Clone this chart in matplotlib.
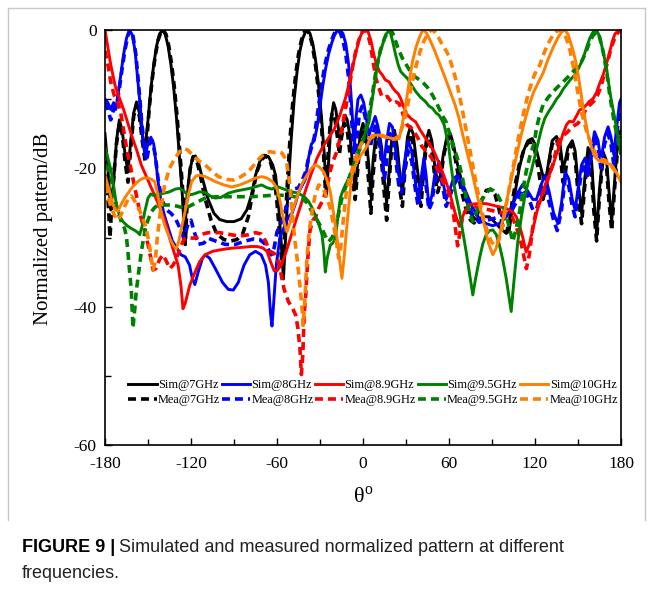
import matplotlib
matplotlib.use('Agg')
import matplotlib.pyplot as plt
from matplotlib.ticker import MultipleLocator

plt.rcParams['font.family'] = ['Liberation Serif', 'DejaVu Serif']
plt.rcParams['mathtext.fontset'] = 'stix'
plt.rcParams['axes.unicode_minus'] = False

# ---------------- data (theta in degrees, normalized pattern in dB) ----------------
labels_sim = ['Sim@7GHz', 'Sim@8GHz', 'Sim@8.9GHz', 'Sim@9.5GHz', 'Sim@10GHz']
labels_mea = ['Mea@7GHz', 'Mea@8GHz', 'Mea@8.9GHz', 'Mea@9.5GHz', 'Mea@10GHz']
colors = ['#000000', '#0000ff', '#ff0000', '#008000', '#ff8000']

sim7 = [(-180, -15), (-178, -20), (-176, -26), (-174, -22), (-172, -16), (-170, -13), (-168, -14.5), (-166, -18),
        (-164, -20.5), (-162, -16), (-160, -12), (-158, -10.4), (-156, -12), (-154, -15), (-152.5, -17.5), (-151, -15),
        (-150, -13), (-148, -8.5), (-146, -5), (-144, -2.3), (-142, -0.6), (-140, 0), (-138, -0.6), (-136, -2.3),
        (-134, -5), (-132, -8.5), (-130, -13), (-128, -18.5), (-126, -24), (-124.5, -29.5), (-123, -25), (-121, -20.5),
        (-119, -18.6), (-117, -18.2), (-115, -19), (-112, -21.5), (-108, -24.5), (-104, -26.5), (-100, -27.4),
        (-95, -27.7), (-90, -27.7), (-85, -27.3), (-81, -26), (-78, -24), (-75, -21), (-72, -19), (-69, -18.1),
        (-66, -18.3), (-63, -19.5), (-61, -21), (-59, -25), (-57, -31), (-55.5, -36), (-54, -30), (-52, -22),
        (-50, -15.5), (-48, -10), (-46, -6), (-44, -3), (-42, -1.2), (-40, -0.2), (-39, 0), (-37, -0.5), (-35, -2),
        (-33, -4.5), (-31, -8), (-29, -12.5), (-27, -18), (-25.5, -24), (-24, -19), (-22, -12.5), (-20.5, -10.5),
        (-19, -11.5), (-17, -14.5), (-16, -16), (-14, -14), (-12.5, -12.3), (-11, -13), (-9, -15.5), (-7, -20),
        (-5.5, -23), (-4, -20), (-2, -15), (0, -13.5), (2, -15), (4, -19.5), (5.5, -24), (7, -19), (9, -15),
        (11, -14.5), (13, -17), (15, -22), (16.5, -25), (18, -21), (20, -16), (22, -14.5), (24, -17), (26, -21.5),
        (27.5, -23.5), (29, -20), (31, -15.5), (33, -14), (35, -15), (37, -18.5), (39, -22), (40.5, -23.5), (42, -20),
        (44, -16), (46, -14.5), (48, -16), (50, -19.5), (52, -22), (54, -21), (56, -18), (58.5, -15.5), (61, -15),
        (63, -16.5), (66, -19.5), (69, -22), (72, -24.5), (75, -26.5), (78, -27.3), (81, -27.3), (84, -27), (88, -27),
        (92, -27.8), (96, -28.7), (100, -29.4), (102, -29), (104, -26), (106.5, -23), (109, -20), (112, -17.5),
        (115, -16), (118, -15.7), (120, -16.5), (123, -19), (126, -21.5), (128, -21), (130, -18.5), (132, -16),
        (135, -15.4), (137.5, -16.5), (139.5, -20), (141, -19), (143, -17), (146, -16), (148, -17.5), (150, -22),
        (152.5, -26.5), (154.5, -22), (157, -17), (159.5, -19), (161, -24), (163, -29.5), (165, -23), (167.5, -17.6),
        (170, -19), (171.5, -23), (173.5, -27.7), (175.5, -22), (178, -15.2), (180, -14.5)]

mea7 = [(-180, -19), (-178, -24), (-176.5, -30), (-175, -24), (-172, -16.5), (-170, -13.5), (-168, -15), (-166, -19),
        (-164, -22), (-162, -17), (-160, -12.5), (-158, -10.8), (-156, -12.5), (-154, -16), (-152, -19), (-150.5, -15),
        (-149, -11), (-147, -7), (-145, -3.8), (-143, -1.5), (-141, -0.3), (-139.5, 0), (-137.5, -0.6), (-135.5, -2.3),
        (-133.5, -5), (-131.5, -8.5), (-129.5, -13), (-127.5, -18.5), (-125.5, -24), (-124, -31), (-122.5, -24),
        (-120.5, -20), (-118.5, -18.3), (-116.5, -18.5), (-114, -20.5), (-110, -24.5), (-106, -27.5), (-102, -29.5),
        (-97, -30.3), (-92, -30.5), (-88, -30.3), (-84, -29.5), (-80, -27), (-77, -23.5), (-74, -20.5), (-71, -18.8),
        (-68, -18.2), (-65, -18.8), (-62, -21), (-60, -25), (-58, -30), (-56.5, -34), (-55, -31), (-53, -23),
        (-51, -16), (-49, -10.5), (-47, -6.5), (-45, -3.5), (-43, -1.5), (-41, -0.3), (-39.5, 0), (-37.5, -0.5),
        (-35.5, -2), (-33.5, -4.5), (-31.5, -8), (-29.5, -12.5), (-27.5, -18), (-26, -24), (-24.5, -18.5), (-23, -14),
        (-21.5, -12), (-19.5, -13), (-17.5, -16), (-16.5, -18), (-15, -15.5), (-13, -13.5), (-11, -14.5), (-9, -18),
        (-7, -22), (-5.5, -24.5), (-4, -21), (-2, -16), (0, -14.5), (2, -17), (4, -22), (5.5, -26.5), (7, -21),
        (9, -16.5), (11, -15.5), (13, -19), (15, -24), (16.5, -27.5), (18, -22.5), (20, -17), (22, -15.5), (24, -18.5),
        (26, -23.5), (27.5, -25.5), (29, -21), (31, -16.5), (33, -15), (35, -16.5), (37, -20.5), (39, -24),
        (40.5, -25.5), (42, -21), (44, -17), (46, -15.5), (48, -17.5), (50, -21), (52, -23.5), (54, -22), (56, -18.5),
        (58.5, -16), (61, -15.5), (63, -17), (66, -20.5), (69, -23.5), (72, -26), (75, -27.5), (77.5, -27.9),
        (80, -26.5), (83, -24.5), (86, -23.2), (89, -23), (92, -23.7), (95, -26), (98, -28.8), (100, -29.3), (102, -28),
        (104, -25), (106.5, -22), (109, -19.5), (112, -17.5), (115, -16.3), (118, -16.2), (120, -17.5), (123, -21),
        (125.5, -24.5), (127.5, -23), (130, -19), (132, -16.5), (135, -15.8), (137.5, -17.5), (139.5, -22), (141, -21),
        (143, -17.5), (146, -16.5), (148, -18.5), (150, -23.5), (152.5, -28), (154.5, -23), (157, -18), (159.5, -20.5),
        (161, -26), (163, -30.5), (165, -24), (167.5, -18.3), (170, -20), (171.5, -24.5), (173.5, -29), (175.5, -23),
        (178, -16), (180, -15.5)]

sim8 = [(-180, -10), (-178, -10.5), (-176, -11.5), (-174, -10.5), (-172.5, -11.5), (-171, -9.5), (-169, -6.5),
        (-167, -3.5), (-165, -1.2), (-163, 0), (-161, -0.7), (-159, -3), (-157, -7.5), (-155, -12), (-153.5, -16),
        (-152, -18), (-150, -16.5), (-148, -15.5), (-146, -16.5), (-144, -20), (-142, -23.5), (-139, -26.5),
        (-136, -28.5), (-133, -30.5), (-130, -31.5), (-127, -32.5), (-124, -32.8), (-121, -34), (-119, -36),
        (-117.3, -36.8), (-115, -35), (-112, -33), (-110, -32.5), (-107, -33), (-103, -34.5), (-98, -36.5),
        (-94, -37.5), (-90.5, -37.6), (-87, -36.5), (-83, -34), (-79, -32.5), (-75, -32), (-71, -32.5), (-68, -34),
        (-66, -36.5), (-64.5, -41), (-63.5, -42.8), (-62.5, -40), (-60.5, -34), (-58, -30), (-55, -28.5), (-52, -27),
        (-49.5, -26.5), (-47, -25), (-45, -23.5), (-42, -22.3), (-40, -21.5), (-38, -18.5), (-36, -16.5), (-34, -16),
        (-32, -14), (-30, -11), (-28, -8), (-26, -5.5), (-24, -3.5), (-22, -2), (-20, -0.8), (-18, -0.1), (-16, 0),
        (-14, -0.5), (-12, -2), (-10, -5), (-8.5, -9), (-7, -14), (-6, -17), (-5, -13), (-3.5, -10), (-1.5, -9.4),
        (0.5, -10.5), (2.5, -13), (4.2, -15.2), (6, -14), (8.5, -12.5), (10.5, -14), (12.5, -17.5), (14.5, -19.5),
        (16.5, -16), (18.5, -13.5), (20.5, -14), (22.5, -17), (25, -21), (27, -22), (29, -19), (31.5, -16),
        (34, -17.5), (36.5, -22), (38.5, -24.5), (40.5, -21.5), (42.5, -18.5), (44, -21), (46, -25.5), (48, -24),
        (50, -21), (53, -19), (55.5, -21.5), (58, -24.5), (60, -23.5), (63, -21.5), (66, -21), (69, -22), (72, -23.5),
        (76, -25.5), (81, -27.2), (86, -28), (90.5, -28.3), (95, -28), (100, -27), (104, -25.5), (108, -23.5),
        (111.5, -22.3), (115, -23.3), (118.5, -24.5), (121, -24.5), (124, -22.5), (127, -21), (130, -23.5),
        (133, -26.5), (136, -28), (138.5, -25), (141, -20.5), (143.5, -21.5), (146, -24.5), (148, -26), (150, -23),
        (152.5, -19.5), (155, -18.5), (157, -20.5), (159, -18), (161.5, -14.7), (164, -16), (166, -19), (168.5, -15.5),
        (171, -14), (173, -15.5), (175, -18), (177, -14), (179, -10.5), (180, -10)]

mea8 = [(-180, -10.5), (-178, -11.5), (-176, -13), (-174, -11.5), (-172, -11), (-170, -8.5), (-168, -5.5),
        (-166, -2.8), (-164, -0.8), (-162.5, 0), (-160.5, -0.8), (-158.5, -3.5), (-156.5, -8), (-154.5, -13),
        (-152.5, -17), (-151, -19), (-149, -16.5), (-147, -16), (-145, -18), (-143, -21.5), (-140.5, -24.5),
        (-137, -26), (-134, -26.5), (-131, -27.2), (-128, -28.5), (-125, -30.1), (-122, -28), (-120, -27.5),
        (-118, -29), (-115, -31), (-111, -30.8), (-108, -30.1), (-103, -30.5), (-96, -31), (-89, -31), (-82, -30.5),
        (-76, -30.2), (-72, -30.3), (-68, -31), (-64, -32.5), (-62, -31.5), (-60, -29.2), (-57, -27.8), (-54, -26),
        (-51, -24), (-48, -23), (-45, -22.8), (-42, -21.5), (-40, -20.5), (-38, -18.5), (-36, -17), (-34, -15.5),
        (-32, -12.5), (-30, -9.5), (-28, -6.8), (-26, -4.5), (-24, -2.8), (-22, -1.5), (-20, -0.5), (-18, 0),
        (-16, -0.3), (-14, -1.5), (-12, -3.5), (-10, -7), (-8.5, -11), (-7, -16), (-5.5, -20), (-4, -15), (-2.5, -12),
        (-0.5, -11), (1.5, -12.5), (3.5, -15.5), (5, -17), (7, -15), (9, -13.5), (11, -15.5), (13, -19), (15, -21.5),
        (17, -18), (19, -15), (21, -15.5), (23, -19), (25, -22.5), (27, -23.5), (29, -20.5), (31.5, -17.5), (34, -19),
        (36.5, -23), (38.5, -25.5), (40.5, -22.5), (42.5, -20), (44, -22.5), (46, -26), (48, -25), (50, -22),
        (53, -20), (55.5, -22.5), (58, -25.5), (60, -24.5), (63, -22.5), (66, -21.5), (69, -22.5), (72, -24.5),
        (76, -26.5), (81, -27.8), (86, -27.5), (90.5, -27.3), (95, -27), (100, -26.5), (104, -26), (108, -24.5),
        (111.5, -23), (115, -24), (118.5, -26), (121, -26), (124, -23.5), (127, -22.5), (130, -25), (133, -27.5),
        (135.5, -29), (138.5, -26), (141, -21.5), (143.5, -22.5), (146, -25.5), (148, -27), (150, -24), (152.5, -20.5),
        (155, -19.5), (157, -21.5), (159, -18.5), (161.5, -15.5), (164, -17), (166, -20), (168.5, -16.5), (171, -15),
        (173, -16.5), (175, -19.5), (177, -15), (179, -12), (180, -11.5)]

sim89 = [(-180, 0), (-178, -2.5), (-176, -5), (-173, -8), (-170, -9.8), (-167, -11.5), (-164, -13.5),
         (-161.5, -15.2), (-158, -17.3), (-154.7, -19.5), (-150.5, -21.5), (-146.5, -23.4), (-143.5, -24.8),
         (-140.7, -26.3), (-137.5, -28), (-134.9, -30.1), (-132, -32), (-129, -34), (-127, -37), (-125.6, -40.3),
         (-124, -39.5), (-121, -37), (-117.2, -35), (-114, -33.5), (-110.2, -32.5), (-105, -32), (-100, -31.8),
         (-94, -31.6), (-89, -31.5), (-83, -31.4), (-78, -31.3), (-74, -31.3), (-70, -31.5), (-67, -32),
         (-64.5, -33.5), (-62, -34.8), (-60, -34.8), (-57, -34), (-54, -32.3), (-51, -30.3), (-49, -29), (-46, -27),
         (-42.6, -24.8), (-39, -22.5), (-35.6, -20.5), (-32, -18.5), (-28.6, -17.1), (-24, -15.6), (-20, -14.3),
         (-17, -12.8), (-14.5, -11.3), (-12.3, -9.9), (-10, -8), (-7.5, -5.5), (-5.3, -3.6), (-3, -1.6), (-1, -0.5),
         (1.5, 0), (3.5, -0.2), (5.5, -1.5), (7.5, -3.5), (9.5, -5), (11.5, -6), (13.5, -6.5), (15.5, -7.2),
         (18.2, -7.5), (20.5, -8.3), (22.8, -8.9), (24.5, -9.2), (26.3, -9.9), (28.5, -11.2), (31, -12.3),
         (33.5, -12.8), (36.8, -13.3), (40, -14.5), (43.8, -15.7), (46.5, -16.5), (49.6, -17.6), (52.5, -19),
         (55.4, -20.5), (58, -22), (60.5, -23.5), (62.7, -25.3), (65, -27), (67.3, -28.4), (69, -27.3),
         (70.8, -26.3), (73, -25.5), (75.4, -25.2), (80, -25.1), (85.9, -25.1), (92, -25.4), (96, -25.6),
         (99.9, -25.8), (104.5, -26.3), (107, -27), (109.2, -28.3), (111.5, -30), (113.8, -32.1), (116, -31),
         (118.9, -28.5), (121, -26.5), (123.4, -24.8), (125.5, -23.3), (128, -21.9), (130.5, -20.7), (132.7, -19.5),
         (135, -17.9), (137.3, -16.6), (139.5, -15), (142, -13.7), (144, -13.2), (146.6, -13.3), (149, -12.4),
         (151, -11.6), (153.6, -11.3), (156, -10.8), (158, -10.3), (160.6, -9.9), (163, -9), (165, -7.8),
         (167.5, -6.5), (170, -4.8), (172.2, -3.1), (174, -1.6), (175.7, -0.6), (178, -0.1), (180, 0)]

mea89 = [(-180, -3), (-178, -5), (-176, -7.5), (-173.5, -9.5), (-171, -10.5), (-169, -12), (-167, -14.5),
         (-165, -17), (-163, -19), (-161.5, -20.5), (-159.5, -22.5), (-157, -25), (-155, -27), (-152.5, -29),
         (-150, -31), (-148, -33), (-146.5, -34.7), (-144.5, -34.5), (-142, -33.2), (-139.5, -32.5), (-137, -33.5),
         (-134.9, -34.5), (-132.5, -34), (-130, -33), (-127.5, -31.5), (-125, -30.3), (-122, -30), (-119, -30.1),
         (-116, -30), (-112, -29.5), (-108, -29.3), (-100, -29.3), (-92, -29.6), (-86, -29.8), (-80, -29.6),
         (-75, -29.3), (-71, -29.5), (-68, -30.5), (-65, -32), (-62, -32.3), (-59, -33.5), (-57, -35.5),
         (-55, -37.5), (-52, -39.3), (-49, -40.3), (-47, -41.2), (-45.5, -43), (-44, -46), (-43, -49.8), (-42, -47),
         (-41, -41), (-40, -38.5), (-38.5, -33), (-37, -29), (-35, -27.5), (-33, -27), (-31, -25.8), (-29, -25),
         (-27, -24), (-25, -22.5), (-23, -20.5), (-21, -19), (-19, -18), (-17, -16.5), (-15, -14.5), (-13, -12.3),
         (-11, -10), (-9, -7.5), (-7, -5), (-5, -3), (-3, -1.5), (-1, -0.4), (1, 0), (3, -0.3), (5, -2),
         (7, -4.5), (9, -7), (11, -8.3), (13, -9.5), (15, -9.8), (17, -9.6), (19, -10.2), (21, -10.6), (23, -10.4),
         (25, -10.6), (27, -11.5), (29, -13), (31, -13.8), (33, -14), (35, -14.5), (38, -15.5), (41, -16.8),
         (44, -17.5), (47, -18.2), (50, -19.3), (53, -20.5), (56, -22), (59, -23), (61, -24.5), (63, -26.5),
         (65, -29.5), (66, -31.2), (67.5, -29.5), (69.5, -27), (72, -26), (76, -25.5), (82, -25.7), (88, -26),
         (94, -26.3), (100, -26.5), (104, -27), (107, -28.5), (110, -30.5), (112, -32.5), (114, -34.5),
         (116, -32.5), (118.5, -28.5), (121, -26), (124, -24.5), (127, -22.8), (130, -21), (133, -19),
         (135.8, -16.4), (138, -15.5), (140, -15.2), (142.5, -14.8), (145, -14.2), (147.5, -13.8), (150, -13.5),
         (153, -12.5), (156, -11.3), (158.5, -10.8), (161, -10.3), (163.5, -9.5), (166, -8.2), (168.5, -6.3),
         (171, -4.3), (173.5, -2.3), (176, -1), (178, -0.3), (180, -0.2)]

sim95 = [(-180, -17), (-178, -18.5), (-175.6, -20.5), (-174, -22.5), (-172, -25.3), (-170, -26.8), (-167.5, -27.7),
         (-164.5, -28.3), (-161.6, -28.7), (-159, -29), (-157, -29.3), (-155.8, -29.6), (-154, -28.3),
         (-152.3, -26.3), (-150, -24.3), (-148, -23.7), (-146.5, -23.9), (-143, -23.8), (-139, -23.6), (-135, -23.4),
         (-131, -23), (-128, -22.9), (-125.5, -23.2), (-122, -23.9), (-118, -23.7), (-114, -23.4), (-110, -23.5),
         (-106.5, -24), (-103, -24.3), (-99, -24.2), (-94, -23.6), (-89, -23.3), (-84, -23.1), (-79, -22.9),
         (-74, -22.6), (-70.7, -22.4), (-67, -22.8), (-63.5, -23), (-60, -22.6), (-56.5, -22.9), (-52.5, -23.2),
         (-49.5, -23.4), (-45, -23.6), (-42.6, -23.9), (-40, -24.3), (-37.9, -24.8), (-35.5, -25.7), (-33.3, -26.8),
         (-31, -28), (-28.6, -29.6), (-27.3, -32), (-26.3, -35), (-25, -33), (-22.8, -31.1), (-21, -30.8),
         (-19.3, -30.1), (-17.5, -27), (-15.8, -24.3), (-14, -23.2), (-12.3, -22.4), (-10, -21.5), (-7.7, -20.5),
         (-5.5, -19), (-3, -17.1), (-1, -16.2), (1.5, -15), (4.2, -13.3), (6.5, -10), (8.9, -6.5), (11, -4),
         (13.5, -2.2), (16, -0.6), (18.6, 0), (20.5, -1.5), (22.8, -3.6), (24.5, -5), (26.3, -6), (28.5, -6.5),
         (31, -7), (34, -8), (36.8, -8.9), (40, -9.7), (43.8, -10.4), (46, -11), (48.4, -11.3), (51, -12),
         (53, -12.3), (55, -13), (56.6, -13.7), (58, -15), (59.6, -16.5), (61, -19), (62.7, -21.5), (65, -24),
         (67.3, -26.3), (69.5, -29), (72, -32.1), (74.5, -35.5), (76.6, -38.3), (78.5, -36), (81.3, -33),
         (83.5, -31), (85.9, -29.6), (88.3, -29), (90.6, -28.9), (93, -29.6), (95.2, -31.1), (97.5, -33.2),
         (99.9, -35.9), (101.8, -38.5), (103.4, -40.7), (105, -37), (108, -30.6), (110.5, -27), (112.7, -24.3),
         (115, -22.2), (117.3, -20.5), (119.5, -18.6), (122.2, -16.2), (124.5, -14.3), (126.8, -12.8),
         (129.5, -11.8), (132.7, -10.8), (135, -10), (137.3, -9.4), (139.5, -8.6), (142, -7.9), (145, -7.1),
         (147.8, -6.5), (150.5, -5.5), (153.6, -4.1), (156, -2.5), (158.2, -1.2), (160.5, -0.3), (162.9, 0),
         (165, -0.9), (167.5, -3.1), (170, -5.6), (172.2, -8.9), (174, -11), (175.7, -12.8), (177.5, -15),
         (180, -17.8)]

mea95 = [(-180, -19.5), (-178, -20), (-175.6, -21.5), (-173.5, -24), (-171, -26.3), (-168.5, -27.8),
         (-166.3, -28.7), (-165, -30), (-164, -32.1), (-162.8, -35), (-161.6, -37.8), (-160.5, -43.1),
         (-159.3, -40.5), (-158.2, -37.8), (-156.5, -35), (-154.7, -32.1), (-153, -30), (-151.2, -28.2),
         (-149.5, -27.2), (-147.7, -26.3), (-145.5, -25.7), (-143, -25.3), (-138, -25.3), (-133.7, -25.3),
         (-129, -25.5), (-124.2, -25.8), (-119.5, -25.3), (-114.9, -24.8), (-110.2, -24.3), (-102, -24.1),
         (-94, -24.1), (-86, -24.1), (-77.7, -24.1), (-70, -24), (-63.7, -23.9), (-58, -23.9), (-54.2, -23.9),
         (-48, -24.1), (-42.6, -24.3), (-39, -25), (-35.6, -26.3), (-32, -27.5), (-28.6, -28.7), (-26.3, -29.8),
         (-24, -30.6), (-21.5, -30), (-19.3, -28.7), (-17, -26.5), (-14.7, -24.3), (-12.3, -22.8), (-10, -21.5),
         (-6.5, -19.5), (-3, -17.6), (0, -16), (3, -13.5), (6, -10), (9, -6), (12, -3), (15, -1.2), (17.5, -0.2),
         (19.5, 0), (21.5, -0.8), (24, -2.4), (27.5, -4.1), (31, -5.3), (34.5, -6.5), (38, -7), (41.4, -7.5),
         (45, -8.3), (48.4, -9.4), (51, -10.4), (53, -11.3), (55.5, -12.4), (58, -13.3), (60.5, -15),
         (62.7, -16.6), (65, -18), (67.3, -19.5), (69.5, -21.5), (72, -24.3), (74.5, -26.5), (76.6, -27.7),
         (79, -26.5), (82.4, -24.8), (85.5, -23.7), (88.2, -23.1), (91, -23.2), (94, -23.9), (97, -25.1),
         (99.9, -26.8), (102, -28.5), (104.5, -30.6), (106.5, -29), (109.2, -26.3), (111.5, -23.3), (113.8, -20.5),
         (116.5, -18.2), (119.6, -16.2), (121, -14.2), (123.3, -12.3), (125.7, -10.8), (129, -9.8), (132.7, -8.9),
         (136, -8.2), (139.6, -7.5), (143, -6.8), (146.6, -6), (149.5, -5.3), (152.4, -4.6), (155.5, -3.2),
         (158.2, -1.7), (160.5, -0.8), (162.9, -0.3), (164.5, -0.6), (167.5, -3.1), (170, -6), (172.2, -9.5),
         (175, -13), (177.5, -15.5), (180, -18)]

sim10 = [(-180, -21), (-178, -22.5), (-176, -24), (-174.4, -25.3), (-172.5, -26), (-171, -26.2), (-169, -25.3),
         (-166.3, -24.3), (-164, -23.6), (-161.6, -22.9), (-158.5, -22.2), (-155.8, -21.7), (-153, -21.4),
         (-150, -21.4), (-147.5, -21.6), (-145.4, -21.9), (-143.5, -23.5), (-141.9, -25.3), (-140, -27),
         (-138.4, -28.2), (-136, -29.5), (-133.7, -30.6), (-131.8, -31.3), (-130.2, -31.6), (-128.5, -30.5),
         (-126.5, -28.5), (-124.2, -26.3), (-121.8, -23.8), (-119.5, -21.9), (-116.5, -21.1), (-113.7, -21),
         (-110, -21.2), (-106, -21.6), (-103.3, -21.9), (-97, -22.4), (-91.6, -22.7), (-86, -22.4), (-80, -21.9),
         (-75, -21.4), (-70.7, -21.2), (-67, -21.4), (-63.3, -21.9), (-61.5, -22.4), (-60, -23), (-58, -24.6),
         (-56.5, -26.3), (-54.8, -28), (-53, -29.2), (-51.2, -28), (-49.5, -26.3), (-47, -24.8), (-44.9, -23.4),
         (-42, -22), (-39.1, -21), (-36, -20), (-33.3, -19.5), (-30.5, -19.8), (-27.4, -20.5), (-25, -21.8),
         (-22.8, -23.4), (-20.5, -26.5), (-18.1, -30.1), (-16.5, -33), (-14.7, -35.9), (-13, -32.5), (-11.2, -28.2),
         (-9.5, -24.5), (-7.7, -21), (-5.5, -19.7), (-3, -18.6), (-0.5, -17.8), (1.9, -17.1), (4.2, -16.1),
         (6.6, -15.2), (10, -15.2), (13.5, -15.2), (17, -15.5), (20.5, -15.7), (23, -15.8), (25.2, -15.7),
         (27.5, -13.5), (29.8, -10.8), (32, -7.8), (34.5, -4.6), (36.8, -2.6), (39.1, -1.2), (41, -0.3), (42.6, 0),
         (44.5, -0.5), (47.3, -1.7), (50, -3), (53, -4.6), (56, -6.2), (58.9, -7.8), (61.5, -9.3), (64.2, -10.8),
         (67, -12.8), (70, -15.5), (73, -18), (76, -20.5), (79, -23.3), (82, -26), (85, -28.5), (87.5, -30.8),
         (90.6, -32.5), (93, -31.5), (95.5, -29.5), (98, -27), (101, -24), (104, -21), (107, -18.3), (110, -15.5),
         (113, -13), (116, -10.8), (119, -9), (122.5, -7.5), (125.7, -6.2), (129, -4.3), (132.7, -2.5), (136, -1.1),
         (138.5, -0.3), (140.8, 0), (143, -0.6), (146.6, -3), (148.5, -4.6), (150.1, -6.5), (152, -9),
         (153.6, -11.3), (155.5, -13.5), (157.1, -15.2), (159.5, -17), (161.7, -18.3), (164.5, -18.9),
         (167.5, -19.1), (170.5, -19.3), (173.4, -19.5), (176.5, -20.5), (180, -22)]

mea10 = [(-180, -22.5), (-178, -24), (-176, -25.5), (-174.4, -26.3), (-172.5, -27.2), (-171, -27.5), (-169, -26.8),
         (-166.3, -25.5), (-164, -24.5), (-161.6, -24), (-159, -24.8), (-156.5, -25.8), (-154, -27), (-151.5, -28.5),
         (-149.5, -30.5), (-147.7, -33), (-146.5, -34.7), (-145, -33.5), (-143.5, -30), (-141.5, -26.5),
         (-138.4, -22.4), (-135, -20), (-131.4, -18.6), (-128, -17.6), (-125, -17.1), (-122, -17.4), (-118, -18.3),
         (-114, -19), (-110.2, -19.5), (-105, -20.5), (-100.9, -21.2), (-95, -21.6), (-90.5, -21.7), (-85, -21.2),
         (-80, -20.5), (-76, -19.5), (-72, -18.5), (-68.4, -17.8), (-65, -17.6), (-62, -17.7), (-59, -17.6),
         (-56.5, -17.8), (-54.5, -18.5), (-53, -19.5), (-51, -22.5), (-49.5, -26.3), (-47.5, -30.5), (-46, -33),
         (-44, -37), (-42.6, -40), (-41.8, -42.7), (-40.8, -40), (-39.1, -33), (-37.5, -29), (-35.6, -26.3),
         (-33.5, -24), (-30.9, -22.4), (-28, -22.8), (-25.1, -24.3), (-22.5, -26), (-20.5, -28.2), (-18.6, -30.6),
         (-17, -33), (-15.8, -32), (-14, -28), (-12, -24), (-9.5, -21.5), (-6.9, -19.7), (-4, -17.8), (-1, -16.4),
         (1.5, -16), (4.2, -15.7), (7.5, -15.4), (11.2, -15.2), (14.5, -15.4), (18.2, -15.7), (21.5, -15.8),
         (25.2, -15.3), (27.5, -14), (30, -12), (32.5, -9.5), (35, -7), (37.5, -4.8), (40, -3), (42.5, -1.6),
         (45, -0.6), (47, -0.1), (48.5, 0), (50.5, -0.4), (53, -1.2), (55.5, -2.2), (58, -3), (60, -3.8),
         (63, -5.8), (66, -8.2), (69, -11.2), (72, -14.5), (75, -17.8), (78, -21.2), (81, -24.3), (84, -27.2),
         (87, -29.3), (89.5, -30.6), (92.1, -31.2), (94.5, -30.5), (97, -28.7), (99.5, -25.7), (102.5, -22.3),
         (105.5, -19), (108.5, -15.5), (112, -12), (115.5, -9), (119, -6.8), (121.5, -5.6), (123.3, -5.1),
         (126, -3.5), (129, -2), (132.7, -0.7), (135, -0.2), (137.3, 0), (139.5, -0.3), (142, -1.3), (144.5, -3),
         (146.6, -5.1), (148.5, -7.5), (150.5, -9.7), (152, -11.5), (153.6, -12.8), (156.5, -15), (159.4, -16.6),
         (161.7, -17.6), (164, -18.6), (166.5, -18.7), (168.7, -18.8), (171.5, -19.3), (174.5, -20), (177, -20.7),
         (180, -21.5)]

sim_curves = [sim7, sim8, sim89, sim95, sim10]
mea_curves = [mea7, mea8, mea89, mea95, mea10]

x_major = [-180, -120, -60, 0, 60, 120, 180]
y_major = [0, -20, -40, -60]

# ---------------- figure ----------------
W, H = 653, 594
fig = plt.figure(figsize=(W / 100, H / 100), dpi=100)
fig.patch.set_facecolor('white')

ax = fig.add_axes([105 / W, 1 - 445 / H, 516 / W, 415 / H])

for lab_s, lab_m, col, cs, cm in zip(labels_sim, labels_mea, colors, sim_curves, mea_curves):
    ts, vs = zip(*cs)
    tm, vm = zip(*cm)
    ax.plot(ts, vs, color=col, lw=2.1, solid_joinstyle='round', label=lab_s)
    ax.plot(tm, vm, color=col, lw=2.6, linestyle=(0, (2.2, 1.4)), label=lab_m)

ax.set_xlim(-180, 180)
ax.set_ylim(-60, 0)
ax.set_xticks(x_major)
ax.set_yticks(y_major)
ax.xaxis.set_minor_locator(MultipleLocator(30))
ax.yaxis.set_minor_locator(MultipleLocator(10))
ax.tick_params(which='both', direction='in', top=False, right=False, width=1.0)
ax.tick_params(which='major', length=5, labelsize=12.5)
ax.tick_params(which='minor', length=4)
ax.tick_params(axis='x', pad=8)
ax.tick_params(axis='y', pad=6)
for sp in ax.spines.values():
    sp.set_linewidth(1.2)

ax.set_ylabel('Normalized pattern/dB', fontsize=15)
ax.yaxis.label.set_va('center')
ax.yaxis.set_label_coords(-0.12, 0.52)
ax.set_xlabel('θ$^\\mathregular{o}$', fontsize=16)
ax.xaxis.label.set_va('center')
ax.xaxis.set_label_coords(0.5, -0.123)

ax.legend(ncol=5, loc='center', bbox_to_anchor=(0.52, 0.126), frameon=False, fontsize=8.8,
          handlelength=2.3, handletextpad=0.1, columnspacing=0.15, labelspacing=0.25, borderaxespad=0)

# light border around figure area
fig.add_artist(plt.Line2D([8 / W, 8 / W], [1 - 8 / H, 1 - 520 / H], color='#c8c8c8', lw=1.0))
fig.add_artist(plt.Line2D([8 / W, 645 / W], [1 - 8 / H, 1 - 8 / H], color='#c8c8c8', lw=1.0))
fig.add_artist(plt.Line2D([645 / W, 645 / W], [1 - 8 / H, 1 - 520 / H], color='#c8c8c8', lw=1.0))

# caption
cap_font = ['Liberation Sans', 'DejaVu Sans']
cap_size = 13
t1 = fig.text(22 / W, 1 - 552 / H, 'FIGURE 9 |', family=cap_font, fontweight='bold', fontsize=cap_size,
              va='baseline', ha='left')
fig.canvas.draw()
bb = t1.get_window_extent(renderer=fig.canvas.get_renderer())
fig.text((bb.x1 + 4) / W, 1 - 552 / H, 'Simulated and measured normalized pattern at different',
         family=cap_font, fontsize=cap_size, va='baseline', ha='left', color='#222222')
fig.text(22 / W, 1 - 578 / H, 'frequencies.', family=cap_font, fontsize=cap_size, va='baseline', ha='left',
         color='#222222')

fig.savefig('out.png', dpi=100, facecolor='white')
